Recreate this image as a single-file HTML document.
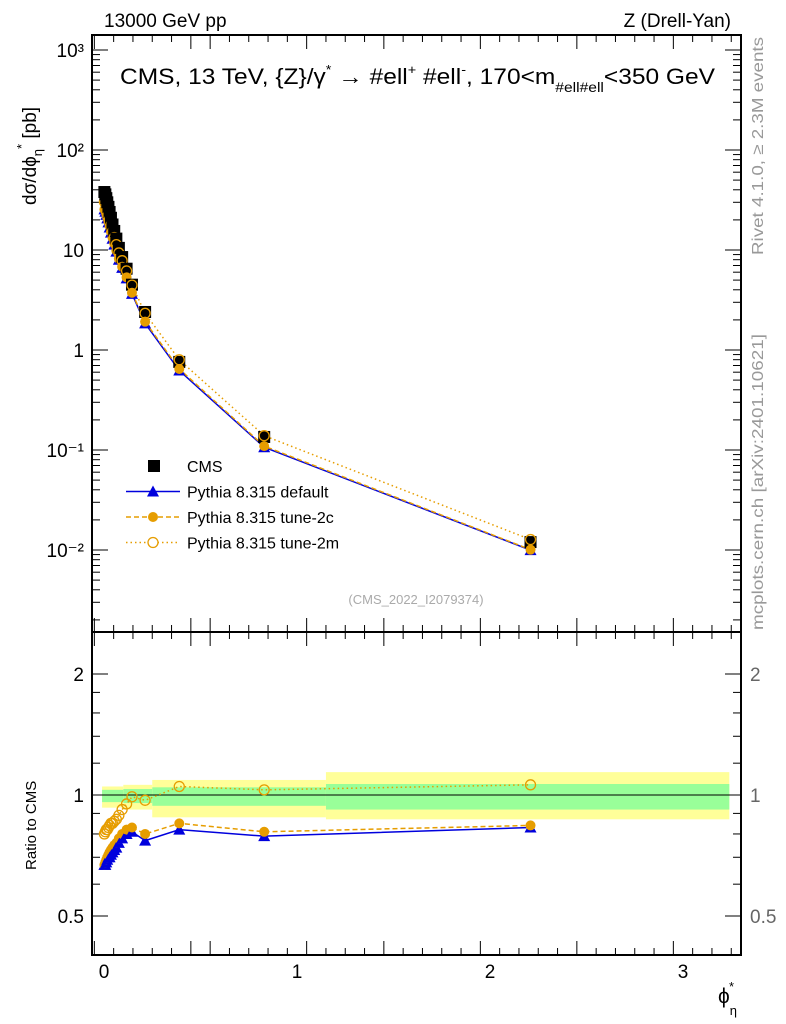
<!DOCTYPE html>
<html><head><meta charset="utf-8"><style>
body{margin:0;background:#fff;}
svg{display:block;font-family:"Liberation Sans",sans-serif;}
</style></head><body>
<svg id="c" width="786" height="1024" viewBox="0 0 786 1024">
<text x="104" y="27" font-size="19">13000 GeV pp</text>
<text x="731" y="27" font-size="19" text-anchor="end">Z (Drell-Yan)</text>
<text x="120" y="84" font-size="22" textLength="595" lengthAdjust="spacingAndGlyphs">CMS, 13 TeV, {Z}/γ<tspan dy="-10" font-size="13">*</tspan><tspan dy="10"> →  #ell</tspan><tspan dy="-10" font-size="13">+</tspan><tspan dy="10"> #ell</tspan><tspan dy="-10" font-size="13">-</tspan><tspan dy="10">, 170&lt;m</tspan><tspan dy="8" font-size="14">#ell#ell</tspan><tspan dy="-8">&lt;350 GeV</tspan></text>
<text transform="translate(763,255) rotate(-90)" font-size="16" fill="#999" textLength="218" lengthAdjust="spacingAndGlyphs">Rivet 4.1.0, ≥ 2.3M events</text>
<text transform="translate(763,630) rotate(-90)" font-size="16" fill="#999" textLength="296" lengthAdjust="spacingAndGlyphs">mcplots.cern.ch [arXiv:2401.10621]</text>
<text x="416" y="604" font-size="13" fill="#aaa" text-anchor="middle">(CMS_2022_I2079374)</text>
<text transform="translate(36,205) rotate(-90)" font-size="19">dσ/dϕ<tspan dy="6" font-size="13">η</tspan><tspan dy="-16" font-size="13">*</tspan><tspan dy="10"> [pb]</tspan></text>
<text transform="translate(36,870) rotate(-90)" font-size="15">Ratio to CMS</text>
<text x="718" y="1003" font-size="21">ϕ<tspan dy="12" font-size="13">η</tspan><tspan dx="-8" dy="-24" font-size="13">*</tspan></text>
<g id="g"></g>
</svg>
<script>
const xs=[0.002,0.007,0.012,0.017,0.023,0.029,0.036,0.044,0.053,0.064,0.077,0.094,0.117,0.145,0.213,0.39,0.83,2.21];
const cms=[38,36,33,30,27,24,21,18,15.5,13,10.5,8.5,6.5,4.5,2.4,0.76,0.135,0.012];
const rDef=[0.67,0.67,0.68,0.69,0.70,0.70,0.71,0.72,0.73,0.74,0.76,0.78,0.80,0.81,0.77,0.82,0.79,0.83];
const r2c=[0.67,0.68,0.69,0.70,0.71,0.72,0.73,0.74,0.75,0.76,0.78,0.80,0.82,0.83,0.80,0.85,0.81,0.84];
const r2m=[0.80,0.81,0.82,0.82,0.83,0.84,0.85,0.85,0.86,0.87,0.89,0.92,0.95,0.99,0.97,1.05,1.03,1.06];
const bandEdges=[-0.01,0.1,0.25,1.15,3.24];
const yellowHi=[1.05,1.06,1.09,1.14];
const yellowLo=[0.93,0.92,0.88,0.87];
const greenHi=[1.03,1.035,1.045,1.065];
const greenLo=[0.96,0.955,0.94,0.92];
const xTicks=[0,1,2,3];
const yDecades=[-2,-1,0,1,2,3];
const yLabels=["10⁻²","10⁻¹","1","10","10²","10³"];
const rTicks=[0.5,1,2];

const L=92,R=741,T=35,M=632,B=955;
const X=v=>104+193*v;
const Y=v=>350-100*Math.log10(v);
const RY=v=>795-121*Math.log2(v);
const g=document.getElementById('g');
const NS='http://www.w3.org/2000/svg';
function el(t,a,p){const e=document.createElementNS(NS,t);for(const k in a)e.setAttribute(k,a[k]);(p||g).appendChild(e);return e;}

for(let i=0;i<4;i++){
 const w=X(bandEdges[i+1])-X(bandEdges[i]);
 const b=el('rect',{x:X(bandEdges[i]),width:w,y:RY(yellowHi[i]),height:RY(yellowLo[i])-RY(yellowHi[i]),fill:'#ffff99'});
 
 
 const gr=el('rect',{x:X(bandEdges[i]),width:w,y:RY(greenHi[i]),height:RY(greenLo[i])-RY(greenHi[i]),fill:'#99ff99'});
 
 
}
el('line',{x1:X(-0.01),x2:X(3.24),y1:RY(1),y2:RY(1),stroke:'#000','stroke-width':1});

const f1=el('rect',{x:L,y:T,width:R-L,height:M-T,fill:'none',stroke:'#000','stroke-width':2});


const f2=el('rect',{x:L,y:M,width:R-L,height:B-M,fill:'none',stroke:'#000','stroke-width':2});



for(let v=-0.05;v<=3.3;v+=0.1){const px=X(Math.round(v*100)/100);if(px<L||px>R)continue;const big=Math.abs(Math.round(v*10)%5)===0;const h=big?14:7;
 el('line',{x1:px,x2:px,y1:T,y2:T+h,stroke:'#000'});el('line',{x1:px,x2:px,y1:M,y2:M-h,stroke:'#000'});
 el('line',{x1:px,x2:px,y1:M,y2:M+h,stroke:'#000'});el('line',{x1:px,x2:px,y1:B,y2:B-h,stroke:'#000'});}
xTicks.forEach(v=>{const t=el('text',{x:X(v),y:978,'font-size':19,'text-anchor':'middle'});t.textContent=v;
 });

yDecades.forEach((d,i)=>{const py=Y(Math.pow(10,d));
 el('line',{x1:L,x2:L+16,y1:py,y2:py,stroke:'#000'});el('line',{x1:R,x2:R-16,y1:py,y2:py,stroke:'#000'});
 const t=el('text',{x:84,y:py+7,'font-size':19,'text-anchor':'end'});t.textContent=yLabels[i];
 
 for(let k=2;k<10;k++){const q=Y(k*Math.pow(10,d));if(q<T)continue;el('line',{x1:L,x2:L+8,y1:q,y2:q,stroke:'#000'});el('line',{x1:R,x2:R-8,y1:q,y2:q,stroke:'#000'});}
});
for(let k=2;k<10;k++){const q=Y(k*1e-3);if(q<M)el('line',{x1:L,x2:L+8,y1:q,y2:q,stroke:'#000'}),el('line',{x1:R,x2:R-8,y1:q,y2:q,stroke:'#000'});}
[0.5,0.6,0.7,0.8,0.9,1,1.2,1.4,1.6,1.8,2].forEach(v=>{const py=RY(v);const big=rTicks.includes(v);const h=big?16:8;
 el('line',{x1:L,x2:L+h,y1:py,y2:py,stroke:'#000'});el('line',{x1:R,x2:R-h,y1:py,y2:py,stroke:'#000'});});
rTicks.forEach(v=>{const t=el('text',{x:84,y:RY(v)+7,'font-size':19,'text-anchor':'end'});t.textContent=v;
 
 const t2=el('text',{x:750,y:RY(v)+7,'font-size':19,fill:'#666'});t2.textContent=v;
 });

function pts(arr,fy){return xs.map((x,i)=>X(x)+','+fy(arr[i])).join(' ');}
const ORG='#e69d00';
const top2m=el('polyline',{points:pts(cms.map((c,i)=>c*r2m[i]),Y),fill:'none',stroke:ORG,'stroke-dasharray':'1.5,3','stroke-width':1.5});

const topDef=el('polyline',{points:pts(cms.map((c,i)=>c*rDef[i]),Y),fill:'none',stroke:'#0000dd','stroke-width':1.5});

const top2c=el('polyline',{points:pts(cms.map((c,i)=>c*r2c[i]),Y),fill:'none',stroke:ORG,'stroke-dasharray':'5,3','stroke-width':1.5});

xs.forEach((x,i)=>{
 const s=el('rect',{x:X(x)-6,y:Y(cms[i])-6,width:12,height:12,fill:'#000'});
 
 const py=Y(cms[i]*rDef[i]);
 const tr=el('polygon',{points:`${X(x)-6},${py+5} ${X(x)+6},${py+5} ${X(x)},${py-6}`,fill:'#0000dd'});
 
 const c=el('circle',{cx:X(x),cy:Y(cms[i]*r2c[i]),r:5,fill:ORG});
 
 const o=el('circle',{cx:X(x),cy:Y(cms[i]*r2m[i]),r:5,fill:'none',stroke:ORG,'stroke-width':1.3});
 
});
const rl2m=el('polyline',{points:pts(r2m,RY),fill:'none',stroke:ORG,'stroke-dasharray':'1.5,3','stroke-width':1.5});

const rlDef=el('polyline',{points:pts(rDef,RY),fill:'none',stroke:'#0000dd','stroke-width':1.5});

const rl2c=el('polyline',{points:pts(r2c,RY),fill:'none',stroke:ORG,'stroke-dasharray':'5,3','stroke-width':1.5});

xs.forEach((x,i)=>{
 const py=RY(rDef[i]);
 const tr=el('polygon',{points:`${X(x)-6},${py+5} ${X(x)+6},${py+5} ${X(x)},${py-6}`,fill:'#0000dd'});
 
 const c=el('circle',{cx:X(x),cy:RY(r2c[i]),r:5,fill:ORG});
 
 const o=el('circle',{cx:X(x),cy:RY(r2m[i]),r:5,fill:'none',stroke:ORG,'stroke-width':1.3});
 
});
const leg=[['CMS','sq'],['Pythia 8.315 default','tri'],['Pythia 8.315 tune-2c','dash'],['Pythia 8.315 tune-2m','dot']];
leg.forEach((l,i)=>{const y=466+25.5*i;const lg=el('g',{});
 
 if(l[1]==='sq')el('rect',{x:148,y:y-6,width:12,height:12,fill:'#000'},lg);
 if(l[1]==='tri'){el('line',{x1:126,x2:180,y1:y,y2:y,stroke:'#0000dd','stroke-width':1.5},lg);el('polygon',{points:`147,${y+5} 159,${y+5} 153,${y-6}`,fill:'#0000dd'},lg);}
 if(l[1]==='dash'){el('line',{x1:126,x2:180,y1:y,y2:y,stroke:ORG,'stroke-dasharray':'5,3','stroke-width':1.5},lg);el('circle',{cx:153,cy:y,r:5,fill:ORG},lg);}
 if(l[1]==='dot'){el('line',{x1:126,x2:180,y1:y,y2:y,stroke:ORG,'stroke-dasharray':'1.5,3','stroke-width':1.5},lg);el('circle',{cx:153,cy:y,r:5,fill:'#fff',stroke:ORG,'stroke-width':1.3},lg);}
 const t=el('text',{x:187,y:y+6,'font-size':16},lg);t.textContent=l[0];});
</script>
</body></html>
